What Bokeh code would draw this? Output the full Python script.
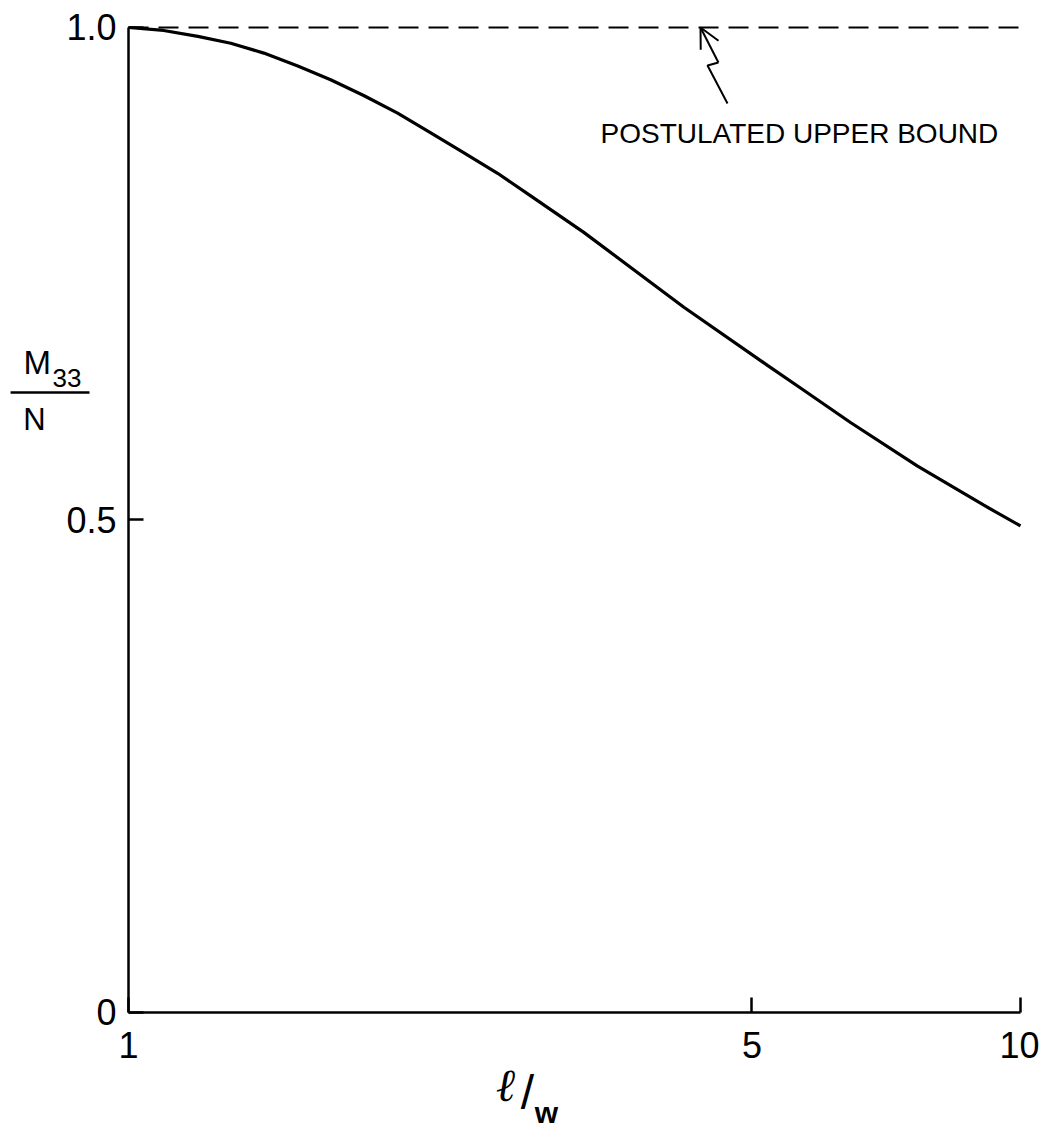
from bokeh.plotting import figure
from bokeh.models import FixedTicker, Label, Arrow, OpenHead, Range1d
from bokeh.embed import file_html
from bokeh.resources import INLINE

# ---- data ----
lw = [1.0, 1.095, 1.196, 1.302, 1.418, 1.548, 1.685, 1.835, 2.003, 2.182,
      2.375, 2.593, 2.824, 3.239, 4.194, 5.204, 5.667, 6.448, 7.659, 9.097,
      10.0]
m33_n = [1.0, 0.997, 0.991, 0.984, 0.974, 0.961, 0.947, 0.931, 0.913, 0.893,
         0.873, 0.852, 0.829, 0.792, 0.716, 0.657, 0.634, 0.599, 0.555, 0.515,
         0.494]
upper_bound = 1.0
bound_x = [1.0, 10.0]

x_ticks = [1, 5, 10]
x_tick_labels = ["1", "5", "10"]
y_ticks = [0, 0.5, 1.0]
y_tick_labels = ["0", "0.5", "1.0"]

# annotation pointer (zig-zag arrow) in data coordinates
pointer_x = [4.694, 4.458, 4.585]
pointer_y = [0.9228, 0.9614, 0.9645]
pointer_tip = (4.378, 1.0)

FONT = "Liberation Sans"

# The frame covers the whole canvas; the axes sit at fixed data locations
# so that the titles drawn around them are not clipped.
p = figure(width=1039, height=1128, x_axis_type="log",
           x_range=Range1d(0.7186, 10.503), y_range=Range1d(-0.11777, 1.02741),
           output_backend="svg", toolbar_location=None,
           min_border_left=0, min_border_right=0,
           min_border_top=0, min_border_bottom=0)
p.xgrid.visible = False
p.ygrid.visible = False
p.outline_line_color = None
p.background_fill_color = "white"
p.border_fill_color = "white"

for ax, ticks, labels, bnds, standoff, loc in (
        (p.xaxis[0], x_ticks, x_tick_labels, (1, 10), 20, 0),
        (p.yaxis[0], y_ticks, y_tick_labels, (0, 1), 12, 1)):
    ax.fixed_location = loc
    ax.ticker = FixedTicker(ticks=ticks)
    ax.major_label_overrides = {t: l for t, l in zip(ticks, labels)}
    ax.bounds = bnds
    ax.axis_line_width = 2.5
    ax.axis_line_color = "black"
    ax.major_tick_line_width = 2.5
    ax.major_tick_line_color = "black"
    ax.major_tick_in = 15
    ax.major_tick_out = 0
    ax.minor_tick_line_color = None
    ax.major_label_text_font = FONT
    ax.major_label_text_font_size = "36px"
    ax.major_label_text_color = "black"
    ax.major_label_standoff = standoff

# postulated upper bound (dashed)
p.line(bound_x, [upper_bound] * len(bound_x), line_color="black",
       line_width=2, line_dash="20 10")
# main curve
p.line(lw, m33_n, line_color="black", line_width=3.2)

# zig-zag pointer
p.line(pointer_x, pointer_y, line_color="black", line_width=2)
p.add_layout(Arrow(end=OpenHead(size=20, line_width=2, line_color="black"),
                   x_start=pointer_x[-1], y_start=pointer_y[-1],
                   x_end=pointer_tip[0], y_end=pointer_tip[1],
                   line_width=2, line_color="black"))

p.add_layout(Label(x=3.382, y=0.8925, text="POSTULATED UPPER BOUND",
                   text_font=FONT, text_font_size="28px", text_color="black",
                   text_baseline="middle", text_align="left"))

# y-axis title: M33 / N as a fraction
p.add_layout(Label(x=0.7626, y=0.6594, text="M", text_font=FONT,
                   text_font_size="33px", text_baseline="middle",
                   text_align="left", text_color="black"))
p.add_layout(Label(x=0.8218, y=0.6442, text="33", text_font=FONT,
                   text_font_size="26px", text_baseline="middle",
                   text_align="left", text_color="black"))
p.add_layout(Arrow(end=None, x_start=0.7375, y_start=0.6294,
                   x_end=0.9042, y_end=0.6294, line_width=2.5,
                   line_color="black"))
p.add_layout(Label(x=0.7844, y=0.6025, text="N", text_font=FONT,
                   text_font_size="31px", text_baseline="middle",
                   text_align="center", text_color="black"))

# x-axis title: l / w
p.add_layout(Label(x=2.646, y=-0.0741, text="ℓ", text_font="DejaVu Serif",
                   text_font_size="46px", text_font_style="italic",
                   text_baseline="middle", text_align="center",
                   text_color="black"))
p.add_layout(Label(x=2.801, y=-0.0812, text="/", text_font=FONT,
                   text_font_size="48px", text_baseline="middle",
                   text_align="center", text_color="black"))
p.add_layout(Label(x=2.942, y=-0.1015, text="w", text_font=FONT,
                   text_font_size="30px", text_font_style="bold",
                   text_baseline="middle", text_align="center",
                   text_color="black"))

open("out.html", "w").write(file_html(p, INLINE))
